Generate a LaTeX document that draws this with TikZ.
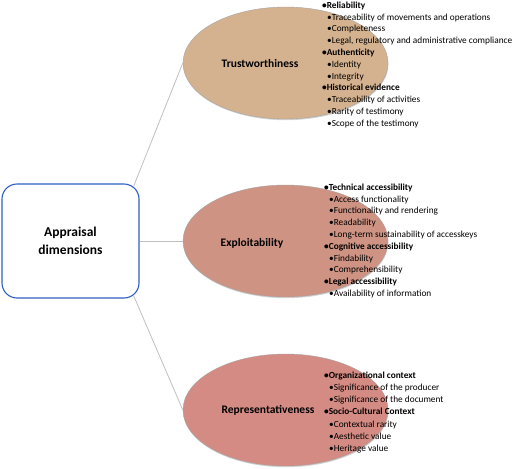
\documentclass[tikz,border=0pt]{standalone}
\usepackage{fontspec}
\setmainfont{Carlito}
\usetikzlibrary{shapes.geometric, shadows}

\definecolor{boxblue}{RGB}{47,95,196}
\definecolor{linkgray}{RGB}{192,192,192}
\definecolor{trustfill}{RGB}{212,178,143}
\definecolor{exploitfill}{RGB}{206,147,131}
\definecolor{reprfill}{RGB}{212,139,131}

\newcommand{\lvlone}[1]{\textbf{•#1}}
\newcommand{\lvltwo}[1]{\hspace*{5pt}•#1}

\tikzset{
  dimbox/.style={draw=boxblue, line width=1.1pt, rounded corners=15pt, fill=white,
    minimum width=137pt, minimum height=114pt, align=center,
    font=\fontsize{13.5}{17.5}\selectfont\bfseries},
  blob/.style={ellipse, draw=black!35, line width=0.4pt, minimum width=205pt, minimum height=112pt,
    drop shadow={shadow xshift=0.4pt, shadow yshift=-1.2pt, opacity=0.35}},
  blobtext/.style={font=\fontsize{11.5}{13}\selectfont\bfseries},
  itemlist/.style={anchor=north west, inner sep=0pt, align=left,
    font=\fontsize{9.3}{11.8}\selectfont},
  link/.style={draw=linkgray, line width=0.8pt},
}

\begin{document}
\begin{tikzpicture}[x=1pt, y=-1pt]
\useasboundingbox (0,0) rectangle (520,469);

% central box
\node[dimbox] (dim) at (70.5,241) {Appraisal\\dimensions};

% the three dimensions
\node[blob, fill=trustfill] (trust) at (285.5,63) {};
\node[blob, fill=exploitfill] (exploit) at (285.5,241) {};
\node[blob, fill=reprfill] (repr) at (285.5,410) {};

\node[blobtext] (trustlabel) at (260,64) {Trustworthiness};
\node[blobtext] (exploitlabel) at (252,243) {Exploitability};
\node[blobtext] (reprlabel) at (268,410) {Representativeness};

% connectors
\coordinate (dimtop) at ([xshift=-6pt,yshift=-3pt]dim.north east);
\coordinate (dimbot) at ([xshift=-6pt,yshift=3pt]dim.south east);
\draw[link] (dimtop) -- (trust.west);
\draw[link] (dim.east) -- (exploit.west);
\draw[link] (dimbot) -- (repr.west);

% item lists
\node[itemlist] (trustlist) at (322,1.5) {%
\lvlone{Reliability}\\
\lvltwo{Traceability of movements and operations}\\
\lvltwo{Completeness}\\
\lvltwo{Legal, regulatory and administrative compliance}\\
\lvlone{Authenticity}\\
\lvltwo{Identity}\\
\lvltwo{Integrity}\\
\lvlone{Historical evidence}\\
\lvltwo{Traceability of activities}\\
\lvltwo{Rarity of testimony}\\
\lvltwo{Scope of the testimony}};

\node[itemlist] (exploitlist) at (324,183.5) {%
\lvlone{Technical accessibility}\\
\lvltwo{Access functionality}\\
\lvltwo{Functionality and rendering}\\
\lvltwo{Readability}\\
\lvltwo{Long-term sustainability of accesskeys}\\
\lvlone{Cognitive accessibility}\\
\lvltwo{Findability}\\
\lvltwo{Comprehensibility}\\
\lvlone{Legal accessibility}\\
\lvltwo{Availability of information}};

\node[itemlist, font=\fontsize{9.3}{12.2}\selectfont] (reprlist) at (324,371.5) {%
\lvlone{Organizational context}\\
\lvltwo{Significance of the producer}\\
\lvltwo{Significance of the document}\\
\lvlone{Socio-Cultural Context}\\
\lvltwo{Contextual rarity}\\
\lvltwo{Aesthetic value}\\
\lvltwo{Heritage value}};

\end{tikzpicture}
\end{document}
